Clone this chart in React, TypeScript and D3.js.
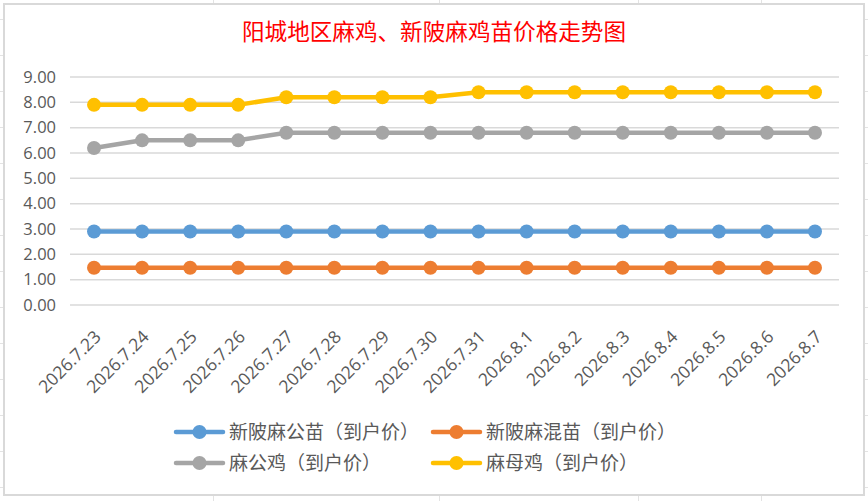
import React, { useEffect, useRef } from 'react';
import * as d3 from 'd3';

const categories = [
  '2026.7.23', '2026.7.24', '2026.7.25', '2026.7.26', '2026.7.27', '2026.7.28',
  '2026.7.29', '2026.7.30', '2026.7.31', '2026.8.1', '2026.8.2', '2026.8.3',
  '2026.8.4', '2026.8.5', '2026.8.6', '2026.8.7',
];

const gongMiao = [2.9, 2.9, 2.9, 2.9, 2.9, 2.9, 2.9, 2.9, 2.9, 2.9, 2.9, 2.9, 2.9, 2.9, 2.9, 2.9];
const hunMiao = [1.47, 1.47, 1.47, 1.47, 1.47, 1.47, 1.47, 1.47, 1.47, 1.47, 1.47, 1.47, 1.47, 1.47, 1.47, 1.47];
const gongJi = [6.2, 6.5, 6.5, 6.5, 6.8, 6.8, 6.8, 6.8, 6.8, 6.8, 6.8, 6.8, 6.8, 6.8, 6.8, 6.8];
const muJi = [7.9, 7.9, 7.9, 7.9, 8.2, 8.2, 8.2, 8.2, 8.4, 8.4, 8.4, 8.4, 8.4, 8.4, 8.4, 8.4];

const yTicks = [0, 1, 2, 3, 4, 5, 6, 7, 8, 9];

const seriesNames = ['新陂麻公苗（到户价）', '新陂麻混苗（到户价）', '麻公鸡（到户价）', '麻母鸡（到户价）'];
const seriesColors = ['#5B9BD5', '#ED7D31', '#A5A5A5', '#FFC000'];

const title = '阳城地区麻鸡、新陂麻鸡苗价格走势图';

export default function App() {
  const svgRef = useRef<SVGSVGElement>(null);
  const width = 868;
  const height = 501;

  useEffect(() => {
    if (!svgRef.current) return;
    const svg = d3.select(svgRef.current);
    svg.selectAll('*').remove();

    const series = [gongMiao, hunMiao, gongJi, muJi];

    // spreadsheet cells peeking out round the chart
    const bg = svg.append('g').attr('stroke', '#e3e3e3').attr('stroke-width', 1);
    d3.range(19, height, 36).forEach(yy => {
      bg.append('line').attr('x1', 0).attr('x2', width).attr('y1', yy + 0.5).attr('y2', yy + 0.5);
    });
    [213, 439, 638, 761].forEach(xx => {
      bg.append('line').attr('x1', xx + 0.5).attr('x2', xx + 0.5).attr('y1', 0).attr('y2', height);
    });

    // chart area
    svg.append('rect')
      .attr('x', 4).attr('y', 4)
      .attr('width', 860).attr('height', 491)
      .attr('fill', '#fff')
      .attr('stroke', '#d9d9d9')
      .attr('stroke-width', 2);

    svg.append('text')
      .attr('x', 434)
      .attr('y', 40)
      .attr('text-anchor', 'middle')
      .attr('fill', '#ff0000')
      .attr('font-size', '22.6px')
      .attr('font-family', '"Noto Sans CJK SC", sans-serif')
      .text(title);

    const x = d3.scaleBand()
      .domain(categories)
      .range([70, 839]);

    const y = d3.scaleLinear()
      .domain([0, 9])
      .range([305, 77]);

    // grid
    svg.append('g')
      .selectAll('line')
      .data(yTicks)
      .enter()
      .append('line')
      .attr('x1', 70)
      .attr('x2', 839)
      .attr('y1', d => y(d))
      .attr('y2', d => y(d))
      .attr('stroke', '#d9d9d9')
      .attr('stroke-width', 1.5);

    // y axis labels
    const yAxis = svg.append('g')
      .attr('transform', 'translate(62,0)')
      .call(d3.axisLeft(y).tickValues(yTicks).tickSize(0).tickPadding(6).tickFormat(d => d3.format('.2f')(d as number)));
    yAxis.select('.domain').remove();
    yAxis.selectAll('text')
      .attr('font-size', '16.5px')
      .attr('font-family', '"Open Sans", sans-serif')
      .attr('fill', '#595959');

    // x axis labels, rotated
    const xAxis = svg.append('g')
      .attr('transform', 'translate(0,305)')
      .call(d3.axisBottom(x).tickSize(0).tickPadding(0));
    xAxis.select('.domain').remove();
    xAxis.selectAll('text')
      .attr('font-size', '17.5px')
      .attr('font-family', '"Open Sans", sans-serif')
      .attr('fill', '#595959')
      .attr('text-anchor', 'end')
      .attr('dy', null)
      .attr('y', 0)
      .attr('transform', 'translate(8,33) rotate(-45)');

    const cx = (i: number) => (x(categories[i]) || 0) + x.bandwidth() / 2;

    const line = d3.line<number>()
      .x((_, i) => cx(i))
      .y(d => y(d));

    series.forEach((vals, si) => {
      const sg = svg.append('g');
      sg.append('path')
        .datum(vals)
        .attr('d', line)
        .attr('fill', 'none')
        .attr('stroke', seriesColors[si])
        .attr('stroke-width', 4.5)
        .attr('stroke-linejoin', 'round');
      sg.selectAll('circle')
        .data(vals)
        .enter()
        .append('circle')
        .attr('cx', (_, i) => cx(i))
        .attr('cy', d => y(d))
        .attr('r', 7)
        .attr('fill', seriesColors[si]);
    });

    // legend
    const legendPos = [[176, 432], [433, 432], [176, 463], [433, 463]];
    seriesNames.forEach((name, i) => {
      const [lx, ly] = legendPos[i];
      const lg = svg.append('g').attr('transform', `translate(${lx},${ly})`);
      lg.append('line')
        .attr('x1', 0).attr('x2', 47)
        .attr('y1', 0).attr('y2', 0)
        .attr('stroke', seriesColors[i])
        .attr('stroke-width', 4.5)
        .attr('stroke-linecap', 'round');
      lg.append('circle')
        .attr('cx', 23.5).attr('cy', 0).attr('r', 7)
        .attr('fill', seriesColors[i]);
      lg.append('text')
        .attr('x', 53)
        .attr('y', 7)
        .attr('font-size', '19px')
        .attr('font-family', '"Noto Sans CJK SC", sans-serif')
        .attr('fill', '#595959')
        .text(name);
    });
  }, []);

  return (
    <div style={{ position: 'absolute', left: 0, top: 0 }}>
      <svg ref={svgRef} width={width} height={height} style={{ display: 'block' }} />
    </div>
  );
}
